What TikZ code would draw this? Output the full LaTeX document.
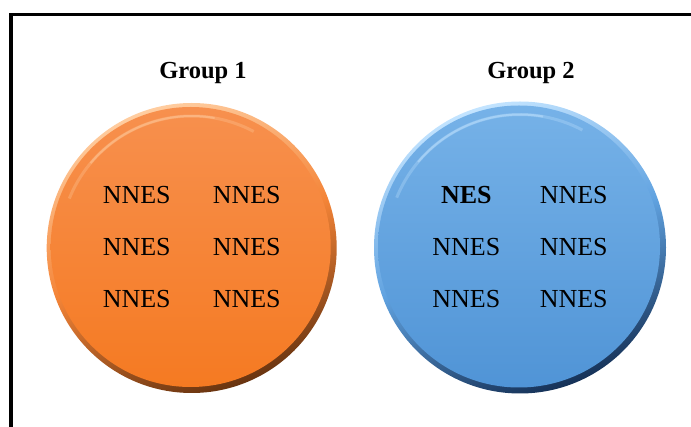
\documentclass[tikz,border=0pt]{standalone}
\usepackage{fontspec}
\setmainfont{Liberation Serif}

% palette
\definecolor{orTop}{RGB}{247,144,78}
\definecolor{orMid}{RGB}{244,132,55}
\definecolor{orBot}{RGB}{245,122,34}
\definecolor{orDark}{RGB}{105,52,16}
\definecolor{orLight}{RGB}{255,205,160}
\definecolor{blTop}{RGB}{118,178,232}
\definecolor{blMid}{RGB}{96,162,224}
\definecolor{blBot}{RGB}{80,148,214}
\definecolor{blDark}{RGB}{22,50,88}
\definecolor{blLight}{RGB}{195,228,255}

\tikzset{
  frameline/.style={line width=3.6pt, line join=miter, black},
  member/.style={anchor=base, inner sep=0pt, font=\fontsize{26}{30}\selectfont},
  native/.style={member, font=\fontsize{26}{30}\selectfont\bfseries},
  grouptitle/.style={anchor=base, inner sep=0pt, font=\fontsize{24.5}{29}\selectfont\bfseries},
}

% bevelled disc: #1 centre, #2 radius, #3 light, #4 dark, #5 top, #6 bottom, #7 rim middle
% (y axis points down, so upper arcs use negative angles)
\newcommand{\beveldisc}[7]{%
  \shade[top color=#3, bottom color=#4, middle color=#7, shading angle=20] (#1) circle[radius=#2];
  \shade[top color=#5, bottom color=#6] ([shift={(-1,-1)}]#1) circle[radius=#2-5];
  \draw[#3, line width=3pt, opacity=0.3] (#1) ++(-158:#2-13) arc[start angle=-158, end angle=-62, radius=#2-13];
  \draw[#3, line width=2pt, opacity=0.45] (#1) ++(-140:#2-13) arc[start angle=-140, end angle=-80, radius=#2-13];
}

\begin{document}
\begin{tikzpicture}[x=1pt, y=-1pt]
  \useasboundingbox (0,0) rectangle (691,427);

  % open frame: top and left sides
  \coordinate (frameR) at (691,14.7);
  \coordinate (frameC) at (11,14.7);
  \coordinate (frameB) at (11,427);
  \draw[frameline] (frameR) -- (frameC) -- (frameB);

  % discs
  \coordinate (c1) at (191.7,248);
  \coordinate (c2) at (520,247.5);
  \beveldisc{c1}{145}{orLight}{orDark}{orTop}{orBot}{orMid}
  \beveldisc{c2}{146}{blLight}{blDark}{blTop}{blBot}{blMid}

  % titles
  \node[grouptitle] (g1) at (203,79) {Group 1};
  \node[grouptitle] (g2) at (531,79) {Group 2};

  % group 1 members
  \node[member] (a11) at (136.7,204) {NNES};
  \node[member] (a12) at (246.7,204) {NNES};
  \node[member] (a21) at (136.7,256) {NNES};
  \node[member] (a22) at (246.7,256) {NNES};
  \node[member] (a31) at (136.7,307.5) {NNES};
  \node[member] (a32) at (246.7,307.5) {NNES};

  % group 2 members
  \node[native] (b11) at (466.3,204) {NES};
  \node[member] (b12) at (573.7,204) {NNES};
  \node[member] (b21) at (466.3,256) {NNES};
  \node[member] (b22) at (573.7,256) {NNES};
  \node[member] (b31) at (466.3,307.5) {NNES};
  \node[member] (b32) at (573.7,307.5) {NNES};
\end{tikzpicture}
\end{document}
